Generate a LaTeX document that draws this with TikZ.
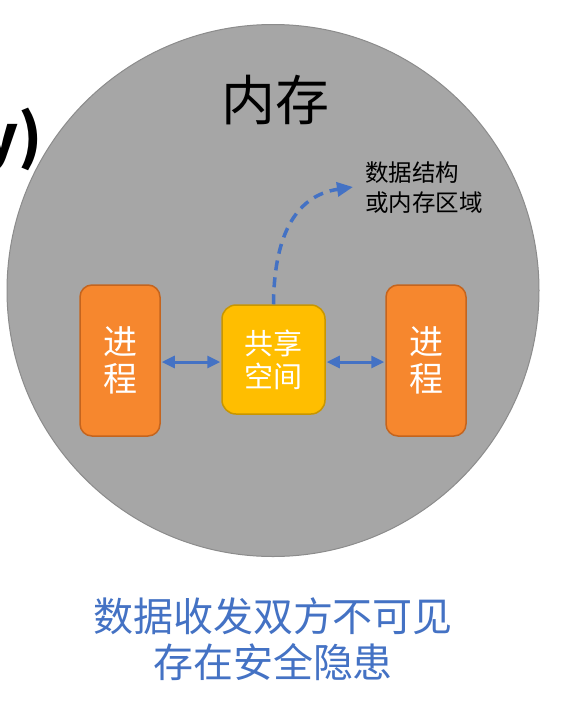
\documentclass[tikz,border=0pt]{standalone}
\usepackage{fontspec}
\setmainfont{Noto Sans CJK SC}
\usetikzlibrary{arrows.meta}
\definecolor{memgray}{RGB}{166,166,166}
\definecolor{memedge}{RGB}{140,140,140}
\definecolor{procfill}{RGB}{246,135,46}
\definecolor{procedge}{RGB}{196,100,30}
\definecolor{shfill}{RGB}{255,190,0}
\definecolor{shedge}{RGB}{200,150,0}
\definecolor{linkblue}{RGB}{68,114,196}
\tikzset{
  procbox/.style={draw=procedge, line width=1.5pt, fill=procfill, rounded corners=12pt,
    minimum width=80pt, minimum height=151pt, inner sep=0pt, text=white, align=center,
    font=\fontsize{34}{37}\selectfont},
  sharebox/.style={draw=shedge, line width=1.5pt, fill=shfill, rounded corners=14pt,
    minimum width=103pt, minimum height=109pt, inner sep=0pt, text=white, align=center,
    font=\fontsize{29}{33}\selectfont},
  link/.style={draw=linkblue, line width=3pt, {Triangle[length=13pt,width=12pt]}-{Triangle[length=13pt,width=12pt]}, shorten <=1pt, shorten >=1pt},
  dashlink/.style={draw=linkblue, line width=3.5pt, dash pattern=on 10pt off 7pt, -{Triangle[length=16pt,width=14pt]}}
}
\begin{document}
\begin{tikzpicture}[x=1pt,y=-1pt]
\useasboundingbox (0,0) rectangle (562,705);
\fill[white] (0,0) rectangle (562,705);
\node[anchor=east, inner sep=0pt, font=\fontsize{60}{60}\selectfont\bfseries] (ylabel) at (43,140) {y)};
\node[circle, draw=memedge, line width=1pt, fill=memgray, minimum size=532pt, inner sep=0pt] (mem) at (273,290.5) {};
\node[font=\fontsize{54}{54}\selectfont, inner sep=0pt] (memtitle) at (275,100) {内存};
\node[procbox] (p1) at (120,360.5) {进\\程};
\node[sharebox] (sh) at (273.5,359.5) {共享\\空间};
\node[procbox] (p2) at (426,360.5) {进\\程};
\draw[link] (p1.east |- 0,362) -- (sh.west |- 0,362);
\draw[link] (sh.east |- 0,362) -- (p2.west |- 0,362);
\node[anchor=north west, align=left, inner sep=0pt, font=\fontsize{23.5}{30}\selectfont] (ds) at (365,162) {数据结构\\或内存区域};
\coordinate (dashend) at (353,187);
\draw[dashlink] (sh.north) .. controls (274,240) and (293,196) .. (dashend);
\node[text=linkblue, align=center, inner sep=0pt, font=\fontsize{40}{46}\selectfont] (bottom) at (273,639) {数据收发双方不可见\\存在安全隐患};
\end{tikzpicture}
\end{document}
